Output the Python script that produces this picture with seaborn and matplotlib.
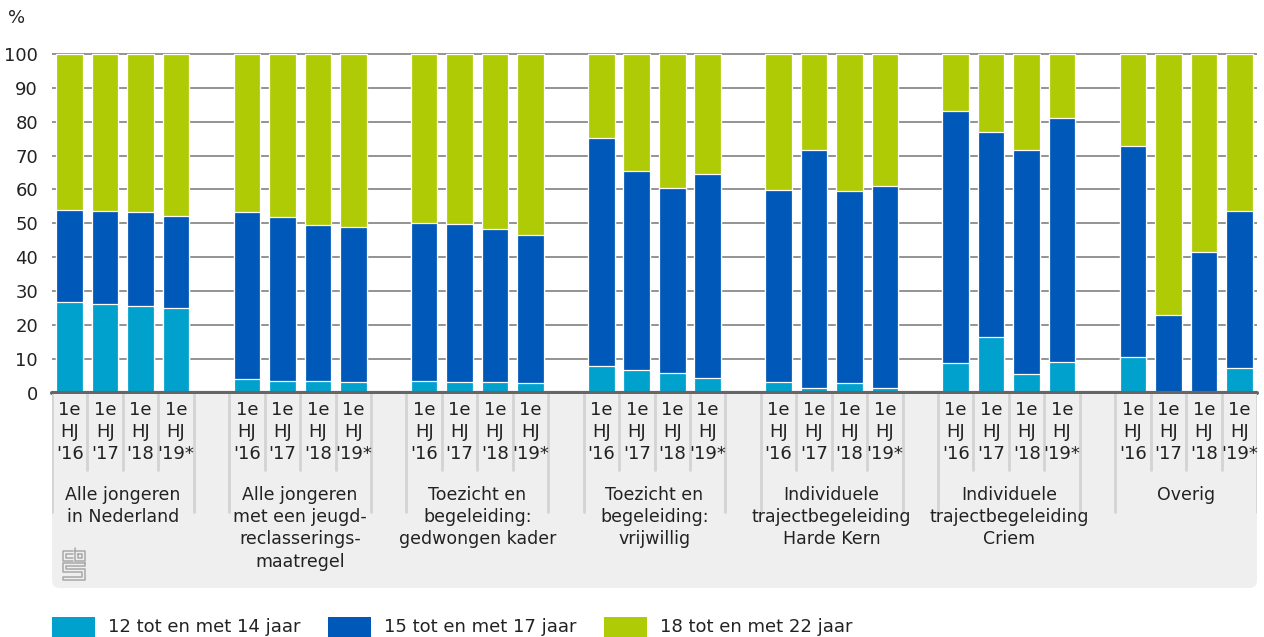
import numpy as np
import pandas as pd
import matplotlib
matplotlib.use('Agg')
import matplotlib.pyplot as plt
from matplotlib.patches import FancyBboxPatch, Rectangle
from matplotlib.lines import Line2D
import seaborn as sns

# Data (percentages per age class)
groups = ['Alle jongeren\nin Nederland',
          'Alle jongeren\nmet een jeugd-\nreclasserings-\nmaatregel',
          'Toezicht en\nbegeleiding:\ngedwongen kader',
          'Toezicht en\nbegeleiding:\nvrijwillig',
          'Individuele\ntrajectbegeleiding\nHarde Kern',
          'Individuele\ntrajectbegeleiding\nCriem',
          'Overig']
periods = ["1e\nHJ\n'16", "1e\nHJ\n'17", "1e\nHJ\n'18", "1e\nHJ\n'19*"]
series = ['12 tot en met 14 jaar', '15 tot en met 17 jaar', '18 tot en met 22 jaar']

age_12_14 = [26.6, 26.1, 25.6, 25.1,
             4.0, 3.5, 3.3, 3.0,
             3.3, 3.0, 3.0, 2.7,
             7.7, 6.7, 5.9, 4.3,
             3.0, 1.4, 2.9, 1.2,
             8.6, 16.5, 5.6, 9.1,
             10.4, 0.0, 0.0, 7.2]
age_15_17 = [27.3, 27.5, 27.6, 26.9,
             49.4, 48.2, 46.1, 45.9,
             46.9, 46.7, 45.2, 43.7,
             67.6, 58.8, 54.4, 60.2,
             56.7, 70.1, 56.5, 59.8,
             74.6, 60.4, 66.0, 72.0,
             62.5, 22.8, 41.4, 46.3]
age_18_22 = [round(100 - a - b, 1) for a, b in zip(age_12_14, age_15_17)]

colors = ['#00a1cd', '#0058b8', '#afcb05']

sns.set_style('white')
plt.rcParams['font.family'] = ['DejaVu Sans']

# positions: 4 bars per group, one empty slot between groups
rows = []
for g in range(len(groups)):
    for i in range(len(periods)):
        k = g * 4 + i
        rows.append({'pos': g * 5 + i, 'a': age_12_14[k],
                     'b': age_15_17[k], 'c': age_18_22[k]})
df = pd.DataFrame(rows)
df['cum_b'] = df['a'] + df['b']
df['cum_c'] = df['cum_b'] + df['c']

W, H = 1264, 637
fig = plt.figure(figsize=(W / 100, H / 100), dpi=100)

def fx(px):
    return px / W

def fy(py):
    return 1 - py / H

y0, y100 = 392.5, 54
ytop = 100.6
ax_top = y0 - (y0 - y100) * ytop / 100
ax = fig.add_axes([fx(52), fy(y0), fx(1257) - fx(52), fy(ax_top) - fy(y0)])

for col, c in zip(['cum_c', 'cum_b', 'a'], colors[::-1]):
    sns.barplot(data=df, x='pos', y=col, native_scale=True, color=c,
                width=0.75, edgecolor='white', linewidth=0.9, ax=ax,
                saturation=1, zorder=3)

ax.set_xlim(-0.5, 33.5)
ax.set_ylim(0, ytop)
ax.set_yticks(range(0, 101, 10))
ax.set_xticks([])
ax.set_xlabel('')
ax.set_ylabel('')
for s in ax.spines.values():
    s.set_visible(False)
ax.tick_params(axis='y', length=0, pad=10, labelsize=13, labelcolor='#222222')
for v in range(10, 101, 10):
    ax.axhline(v, color='#8a8a8a', lw=1.3, zorder=1)
ax.axhline(0, color='#666666', lw=3, zorder=4, clip_on=False)

fig.text(fx(8), fy(18), '%', fontsize=13, color='#222222', va='center', ha='left')

# label box below the bars
ax2 = fig.add_axes([fx(52), fy(588), fx(1257) - fx(52), fy(394) - fy(588)])
ax2.set_xlim(-0.5, 33.5)
ax2.set_ylim(588, 394)
ax2.axis('off')
box = FancyBboxPatch((-0.5, 360), 34, 228, boxstyle='round,pad=0,rounding_size=0.22',
                     mutation_aspect=35.4, facecolor='#efefef', edgecolor='none')
ax2.add_patch(box)

for g, name in enumerate(groups):
    base = g * 5
    for i, p in enumerate(periods):
        ax2.text(base + i, 401, p, ha='center', va='top', fontsize=13,
                 color='#222222', linespacing=1.28)
    for i in range(3):
        ax2.plot([base + i + 0.5] * 2, [394, 470], color='#d3d3d3', lw=2)
    ax2.plot([base - 0.5] * 2, [394, 512], color='#d3d3d3', lw=2)
    ax2.plot([base + 3.5] * 2, [394, 512], color='#d3d3d3', lw=2)
    ax2.text(base + 1.5, 486, name, ha='center', va='top', fontsize=12.5,
             color='#222222', linespacing=1.3)

# small cbs logo
logo = [
    [(73, 551), (63, 551), (63, 561), (73, 561)],
    [(73, 554), (66, 554), (66, 558), (73, 558)],
    [(75, 548), (75, 561), (85, 561), (85, 551), (75, 551)],
    [(78, 554), (82, 554), (82, 558), (78, 558), (78, 554)],
    [(85, 563), (63, 563), (63, 572), (82, 572), (82, 577), (63, 577),
     (63, 580), (85, 580), (85, 569), (66, 569), (66, 566), (85, 566), (85, 563)],
]
for pts in logo:
    xs = [fx(p[0]) for p in pts]
    ys = [fy(p[1]) for p in pts]
    fig.add_artist(Line2D(xs, ys, color='#a8a8a8', lw=1.1, transform=fig.transFigure))

# legend
leg_x = [52, 328, 604]
for x0, c, lab in zip(leg_x, colors, series):
    fig.add_artist(Rectangle((fx(x0), fy(637)), fx(43), fy(617) - fy(637),
                             transform=fig.transFigure, facecolor=c, edgecolor='none'))
    fig.text(fx(x0 + 56), fy(627), lab, fontsize=13, color='#222222',
             va='center', ha='left')

fig.savefig('out.png', dpi=100)
